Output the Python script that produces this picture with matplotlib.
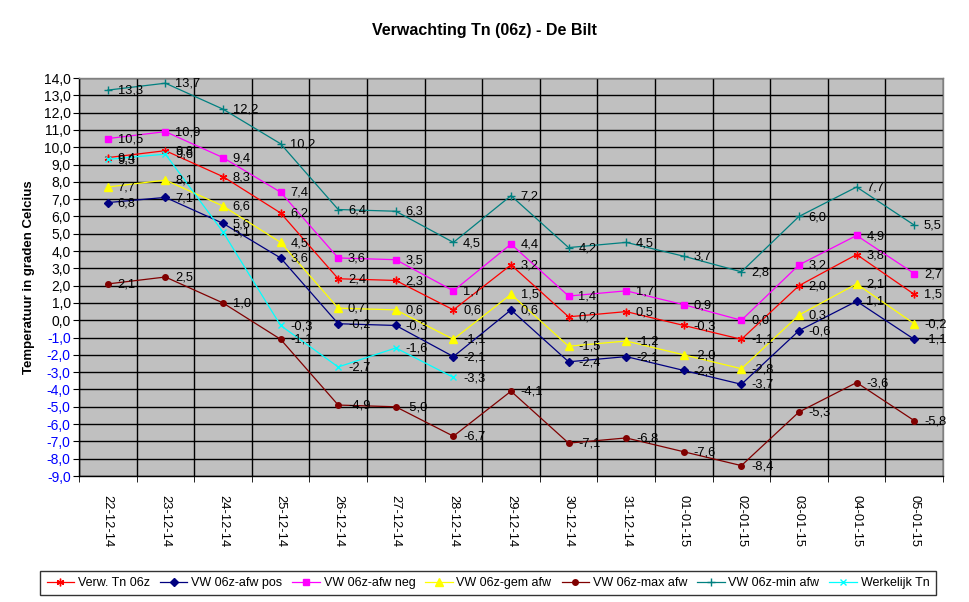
import matplotlib
matplotlib.use("Agg")
import matplotlib.pyplot as plt
from matplotlib.ticker import FixedLocator

plt.rcParams['font.family'] = ['Liberation Sans', 'DejaVu Sans']

dates = ["22-12-14", "23-12-14", "24-12-14", "25-12-14", "26-12-14", "27-12-14", "28-12-14",
         "29-12-14", "30-12-14", "31-12-14", "01-01-15", "02-01-15", "03-01-15", "04-01-15", "05-01-15"]

verw_tn = [9.4, 9.8, 8.3, 6.2, 2.4, 2.3, 0.6, 3.2, 0.2, 0.5, -0.3, -1.1, 2.0, 3.8, 1.5]
afw_pos = [6.8, 7.1, 5.6, 3.6, -0.2, -0.3, -2.1, 0.6, -2.4, -2.1, -2.9, -3.7, -0.6, 1.1, -1.1]
afw_neg = [10.5, 10.9, 9.4, 7.4, 3.6, 3.5, 1.7, 4.4, 1.4, 1.7, 0.9, 0.0, 3.2, 4.9, 2.7]
gem_afw = [7.7, 8.1, 6.6, 4.5, 0.7, 0.6, -1.1, 1.5, -1.5, -1.2, -2.0, -2.8, 0.3, 2.1, -0.2]
max_afw = [2.1, 2.5, 1.0, -1.1, -4.9, -5.0, -6.7, -4.1, -7.1, -6.8, -7.6, -8.4, -5.3, -3.6, -5.8]
min_afw = [13.3, 13.7, 12.2, 10.2, 6.4, 6.3, 4.5, 7.2, 4.2, 4.5, 3.7, 2.8, 6.0, 7.7, 5.5]
werkelijk = [9.3, 9.6, 5.1, -0.3, -2.7, -1.6, -3.3]

series = [
    ("Verw. Tn 06z", verw_tn, "#FF0000", (6, 2, 0), 5.5),
    ("VW 06z-afw pos", afw_pos, "#000080", "D", 3.8),
    ("VW 06z-afw neg", afw_neg, "#FF00FF", "s", 4.5),
    ("VW 06z-gem afw", gem_afw, "#FFFF00", "^", 5.5),
    ("VW 06z-max afw", max_afw, "#800000", "o", 4),
    ("VW 06z-min afw", min_afw, "#008080", "+", 6),
    ("Werkelijk Tn", werkelijk, "#00FFFF", "x", 4.5),
]

fig = plt.figure(figsize=(9.69, 6.02), dpi=100)
ax = fig.add_axes([79/969, 1-476/602, (943-79)/969, (476-78)/602])
ax.set_facecolor("#C0C0C0")

for name, vals, col, mk, ms in series:
    xs = list(range(len(vals)))
    ax.plot(xs, vals, color=col, lw=0.9, marker=mk, ms=ms, mec=col, mfc=col,
            mew=1.0, label=name, zorder=3)
    for x, v in zip(xs, vals):
        ax.annotate(f"{v:.1f}".replace(".", ","), (x, v), xytext=(7, -0.5),
                    textcoords="offset points", ha="left", va="center",
                    fontsize=9.3, color="black", zorder=4)

ax.set_xlim(-0.5, len(dates) - 0.5)
ax.set_ylim(-9, 14)
yvals = list(range(-9, 15))
ax.set_yticks([float(v) for v in yvals])
ax.set_yticklabels([f"{v:.1f}".replace(".", ",") for v in yvals], fontsize=10)
for lbl, v in zip(ax.get_yticklabels(), yvals):
    lbl.set_color("#0000FF" if v < 0 else "black")

ax.set_xticks(range(len(dates)))
ax.set_xticklabels(dates, rotation=-90, fontsize=9.3)
ax.xaxis.set_minor_locator(FixedLocator([i - 0.5 for i in range(len(dates) + 1)]))
ax.tick_params(axis="x", which="major", length=0, pad=14)
ax.tick_params(axis="x", which="minor", length=4, direction="out", color="black")
ax.tick_params(axis="y", which="major", length=4, direction="out", pad=2)

ax.grid(True, axis="y", which="major", color="black", lw=1.0, zorder=1)
ax.grid(True, axis="x", which="minor", color="black", lw=1.0, zorder=1)
ax.set_axisbelow(True)

for s in ["top", "right"]:
    ax.spines[s].set_color("#808080")
    ax.spines[s].set_linewidth(1.0)
for s in ["left", "bottom"]:
    ax.spines[s].set_color("black")
    ax.spines[s].set_linewidth(1.0)

ax.set_ylabel("Temperatuur in graden Celcius", fontsize=9.5, fontweight="bold", labelpad=6)
fig.text(484/969, 1-30/602, "Verwachting Tn (06z) - De Bilt", ha="center", va="center",
         fontsize=11.5, fontweight="bold")

leg = fig.legend(loc="center", bbox_to_anchor=(488/969, 1-583/602), ncol=7, fontsize=9,
                 frameon=True, fancybox=False, edgecolor="black", handlelength=2.2,
                 handletextpad=0.3, columnspacing=0.8, borderpad=0.5)
leg.get_frame().set_linewidth(1.0)

fig.savefig("out.png", dpi=100, facecolor="white")
